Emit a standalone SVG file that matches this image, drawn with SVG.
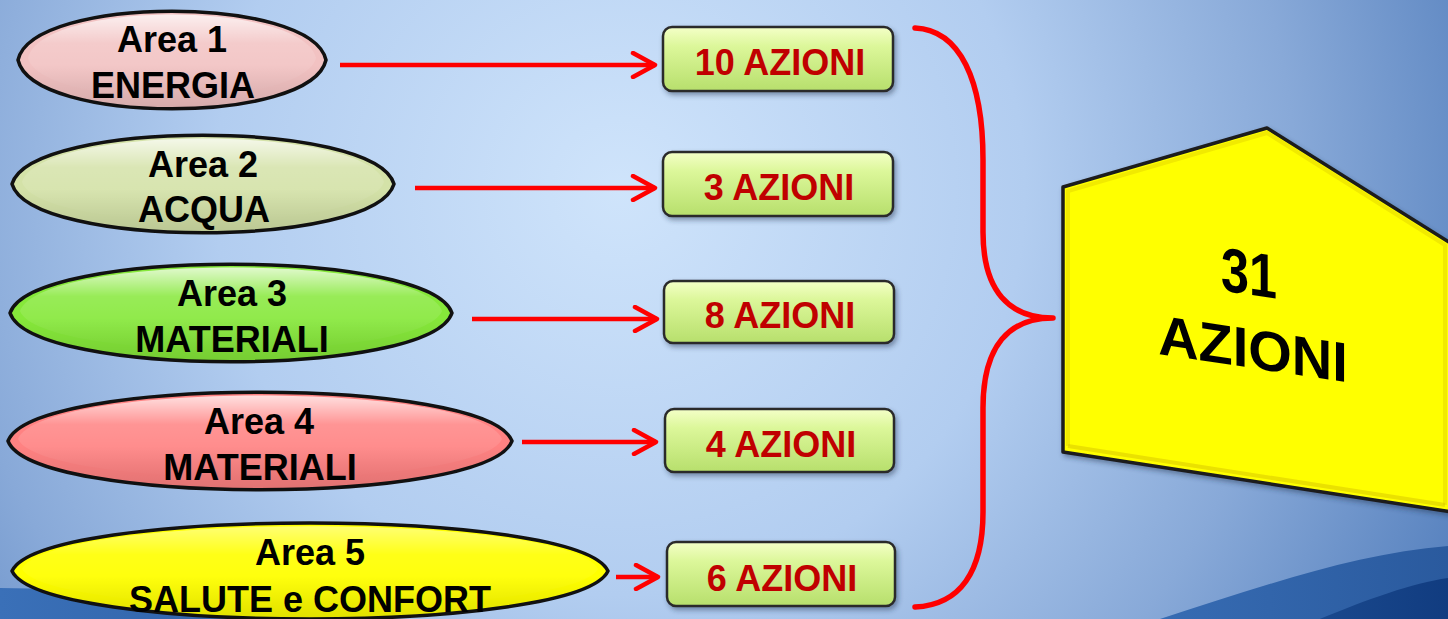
<svg xmlns="http://www.w3.org/2000/svg" width="1448" height="619" viewBox="0 0 1448 619">
  <defs>
    <radialGradient id="bg" cx="620" cy="190" r="900" gradientUnits="userSpaceOnUse">
      <stop offset="0" stop-color="#cfe4fb"/>
      <stop offset="0.45" stop-color="#b2cdf0"/>
      <stop offset="0.75" stop-color="#88a9d8"/>
      <stop offset="1" stop-color="#5a84c0"/>
    </radialGradient>
    <linearGradient id="waveA" x1="0" y1="0" x2="1" y2="0">
      <stop offset="0" stop-color="#3a70b8"/>
      <stop offset="1" stop-color="#2a5a9e"/>
    </linearGradient>
    <linearGradient id="waveB" x1="0" y1="0" x2="1" y2="0">
      <stop offset="0" stop-color="#1d4d92"/>
      <stop offset="1" stop-color="#113c80"/>
    </linearGradient>
    <linearGradient id="gloss" x1="0" y1="0" x2="0" y2="1">
      <stop offset="0" stop-color="#ffffff" stop-opacity="0.75"/>
      <stop offset="0.35" stop-color="#ffffff" stop-opacity="0.15"/>
      <stop offset="1" stop-color="#ffffff" stop-opacity="0"/>
    </linearGradient>
    <linearGradient id="shade" x1="0" y1="0" x2="0" y2="1">
      <stop offset="0.55" stop-color="#000000" stop-opacity="0"/>
      <stop offset="1" stop-color="#000000" stop-opacity="0.12"/>
    </linearGradient>
    <linearGradient id="boxFill" x1="0" y1="0" x2="0" y2="1">
      <stop offset="0" stop-color="#f4ffc8"/>
      <stop offset="0.3" stop-color="#dcf79a"/>
      <stop offset="1" stop-color="#b7df6c"/>
    </linearGradient>
    <filter id="drop" x="-10%" y="-20%" width="130%" height="150%">
      <feDropShadow dx="2" dy="3" stdDeviation="2.5" flood-color="#203050" flood-opacity="0.45"/>
    </filter>
    <marker id="chev" viewBox="0 0 28 28" refX="25" refY="14" markerWidth="28" markerHeight="28" markerUnits="userSpaceOnUse" orient="auto">
      <path d="M3,2 L25,14 L3,26" fill="none" stroke="#ff0000" stroke-width="4.5" stroke-linecap="round" stroke-linejoin="round"/>
    </marker>
    <style>
      .oval { stroke: #111111; stroke-width: 3.5; stroke-linejoin: round; }
      .lbl { font-family: "Liberation Sans", Arial, sans-serif; font-weight: bold; font-size: 36px; fill: #000000; text-anchor: middle; }
      .box { fill: url(#boxFill); stroke: #2b2b2b; stroke-width: 2.5; filter: url(#drop); }
      .cnt { font-family: "Liberation Sans", Arial, sans-serif; font-weight: bold; font-size: 36px; fill: #c00000; text-anchor: middle; }
      .arrow { stroke: #ff0000; stroke-width: 4.5; fill: none; marker-end: url(#chev); }
      .brace { stroke: #ff0000; stroke-width: 5.5; fill: none; stroke-linecap: round; stroke-linejoin: round; }
    </style>
  </defs>

  <!-- backdrop -->
  <rect x="0" y="0" width="1448" height="619" fill="url(#bg)"/>
  <path d="M0,588 C120,589 250,600 420,640 L0,640 Z" fill="url(#waveA)"/>
  <path d="M1090,640 C1200,610 1330,555 1448,546 L1448,640 Z" fill="url(#waveA)"/>
  <path d="M1270,640 C1340,610 1400,585 1448,578 L1448,640 Z" fill="url(#waveB)"/>

  <!-- connectors -->
  <g id="connectors">
    <line class="arrow" x1="340" y1="65" x2="655" y2="65"/>
    <line class="arrow" x1="415" y1="188" x2="655" y2="188"/>
    <line class="arrow" x1="472" y1="319" x2="657" y2="319"/>
    <line class="arrow" x1="522" y1="442" x2="656" y2="442"/>
    <line class="arrow" x1="616" y1="577" x2="658" y2="577"/>
    <path class="brace" d="M915,28 C960,30 983,80 983,160 L983,232 C983,292 1010,318 1053,318 C1010,318 983,345 983,408 L983,512 C983,572 960,605 915,607"/>
  </g>

  <!-- area ovals: lens outlines built from two cubic arcs -->
  <g id="area1">
    <path class="oval" fill="#f2c2c2" d="M18,60 C33,-5 311,-5 326,60 C311,125 33,125 18,60 Z"/>
    <path fill="url(#gloss)" d="M28,58 C42,0 302,0 316,58 C302,110 42,110 28,58 Z"/>
    <path fill="url(#shade)" d="M18,60 C33,-5 311,-5 326,60 C311,125 33,125 18,60 Z"/>
    <text class="lbl" x="172" y="52">Area 1</text>
    <text class="lbl" x="173" y="98">ENERGIA</text>
  </g>
  <g id="area2">
    <path class="oval" fill="#d4e2a8" d="M12,184 C31,119 375,119 394,184 C375,249 31,249 12,184 Z"/>
    <path fill="url(#gloss)" d="M22,182 C40,124 366,124 384,182 C366,234 40,234 22,182 Z"/>
    <path fill="url(#shade)" d="M12,184 C31,119 375,119 394,184 C375,249 31,249 12,184 Z"/>
    <text class="lbl" x="203" y="177">Area 2</text>
    <text class="lbl" x="204" y="222">ACQUA</text>
  </g>
  <g id="area3">
    <path class="oval" fill="#86e83a" d="M10,313 C32,248 430,248 452,313 C430,378 32,378 10,313 Z"/>
    <path fill="url(#gloss)" d="M20,311 C41,253 421,253 442,311 C421,363 41,363 20,311 Z"/>
    <path fill="url(#shade)" d="M10,313 C32,248 430,248 452,313 C430,378 32,378 10,313 Z"/>
    <text class="lbl" x="232" y="306">Area 3</text>
    <text class="lbl" x="232" y="352">MATERIALI</text>
  </g>
  <g id="area4">
    <path class="oval" fill="#ff8282" d="M8,441 C33,376 487,376 512,441 C487,506 33,506 8,441 Z"/>
    <path fill="url(#gloss)" d="M18,439 C42,381 478,381 502,439 C478,491 42,491 18,439 Z"/>
    <path fill="url(#shade)" d="M8,441 C33,376 487,376 512,441 C487,506 33,506 8,441 Z"/>
    <text class="lbl" x="259" y="434">Area 4</text>
    <text class="lbl" x="260" y="480">MATERIALI</text>
  </g>
  <g id="area5">
    <path class="oval" fill="#ffff00" d="M12,571 C42,507 578,507 608,571 C578,635 42,635 12,571 Z"/>
    <path fill="url(#gloss)" opacity="0.6" d="M22,569 C51,512 569,512 598,569 C569,620 51,620 22,569 Z"/>
    <path fill="url(#shade)" d="M12,571 C42,507 578,507 608,571 C578,635 42,635 12,571 Z"/>
    <text class="lbl" x="310" y="565">Area 5</text>
    <text class="lbl" x="310" y="612">SALUTE e CONFORT</text>
  </g>

  <!-- action counts -->
  <g id="count1">
    <rect class="box" x="663" y="27" width="230" height="64" rx="9"/>
    <text class="cnt" x="780" y="75">10 AZIONI</text>
  </g>
  <g id="count2">
    <rect class="box" x="663" y="152" width="230" height="64" rx="9"/>
    <text class="cnt" x="779" y="200">3 AZIONI</text>
  </g>
  <g id="count3">
    <rect class="box" x="664" y="281" width="230" height="62" rx="9"/>
    <text class="cnt" x="780" y="328">8 AZIONI</text>
  </g>
  <g id="count4">
    <rect class="box" x="665" y="409" width="229" height="63" rx="9"/>
    <text class="cnt" x="781" y="457">4 AZIONI</text>
  </g>
  <g id="count5">
    <rect class="box" x="667" y="542" width="228" height="64" rx="9"/>
    <text class="cnt" x="782" y="591">6 AZIONI</text>
  </g>

  <!-- total -->
  <g id="total">
    <polygon points="1267,128 1452,244 1452,512 1063,452 1063,187" fill="#ffff00" stroke="#1c1c1c" stroke-width="3.5" stroke-linejoin="round" filter="url(#drop)"/>
    <polyline points="1068,446 1068,191 1267,133 1445,245 1445,505" fill="none" stroke="#e8dc00" stroke-width="4" opacity="0.6"/>
    <line x1="1068" y1="446" x2="1445" y2="505" stroke="#d6c400" stroke-width="4" opacity="0.5"/>
    <g transform="translate(1252,330) skewY(8.5) translate(-1252,-330)">
      <text class="lbl" x="1249" y="295" style="font-size:62px" textLength="56" lengthAdjust="spacingAndGlyphs">31</text>
      <text class="lbl" x="1253" y="368" style="font-size:56px">AZIONI</text>
    </g>
  </g>
</svg>
